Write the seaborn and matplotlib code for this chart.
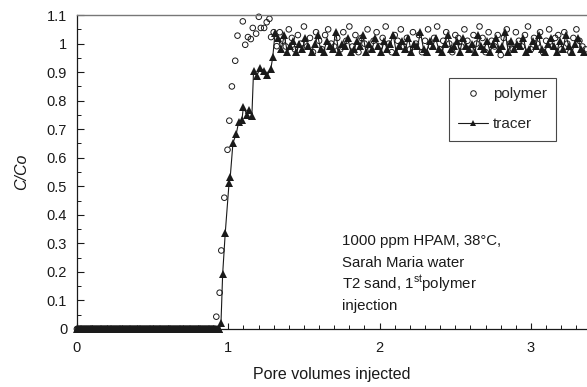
import numpy as np
import pandas as pd
import matplotlib
matplotlib.use("Agg")
import matplotlib.pyplot as plt
from matplotlib.lines import Line2D
from matplotlib.ticker import MultipleLocator
import seaborn as sns

# === DATA ===
# before breakthrough both effluent curves sit at zero
tracer_zero_pv = np.round(np.arange(0.0, 0.945, 0.006), 3)
polymer_zero_pv = np.round(np.arange(0.0, 0.915, 0.006), 3)

# breakthrough front
tracer_front_pv = [0.952, 0.963, 0.980, 1.005, 1.013, 1.031, 1.053, 1.068, 1.090, 1.100,
                   1.123, 1.140, 1.156, 1.167, 1.189, 1.211, 1.237, 1.259, 1.281, 1.294, 1.309]
tracer_front_c = [0.022, 0.193, 0.336, 0.510, 0.532, 0.652, 0.684, 0.724, 0.731, 0.778,
                  0.751, 0.768, 0.747, 0.903, 0.888, 0.915, 0.903, 0.891, 0.911, 0.953, 1.037]

polymer_front_pv = [0.921, 0.943, 0.954, 0.974, 0.995, 1.007, 1.024, 1.046, 1.061, 1.096,
                    1.112, 1.130, 1.149, 1.162, 1.184, 1.202, 1.215, 1.237, 1.254, 1.272,
                    1.283, 1.300, 1.320]
polymer_front_c = [0.043, 0.127, 0.275, 0.460, 0.628, 0.730, 0.850, 0.940, 1.028, 1.078,
                   0.996, 1.023, 1.016, 1.055, 1.035, 1.094, 1.055, 1.055, 1.075, 1.087,
                   1.023, 1.040, 0.991]

# plateau, sampled every 0.02 PV from 1.33
plateau_pv = np.round(1.33 + 0.02 * np.arange(102), 2)
tracer_plateau_c = [
    1.02, 0.98, 1.03, 0.97, 0.99, 1.01, 0.97, 1.00, 0.98, 1.02,
    0.99, 0.97, 1.00, 1.03, 0.98, 0.97, 1.01, 0.99, 0.98, 1.04,
    0.97, 1.00, 0.99, 1.02, 0.97, 0.98, 1.01, 0.99, 1.03, 0.97,
    1.00, 0.98, 1.02, 0.99, 0.97, 1.01, 0.98, 1.00, 1.03, 0.97,
    0.99, 1.01, 0.98, 1.02, 0.97, 1.00, 0.99, 1.04, 0.98, 0.97,
    1.01, 0.99, 1.02, 0.98, 0.97, 1.00, 1.03, 0.98, 0.99, 1.01,
    0.97, 1.02, 0.99, 0.98, 1.00, 0.97, 1.03, 0.99, 0.98, 1.01,
    0.97, 1.00, 1.02, 0.98, 0.99, 1.04, 0.97, 1.01, 0.98, 1.00,
    0.99, 1.02, 0.97, 0.98, 1.01, 0.99, 1.03, 0.98, 0.97, 1.00,
    1.02, 0.99, 0.97, 1.01, 0.98, 1.03, 0.99, 0.97, 1.00, 1.02,
    0.98, 0.97]
polymer_plateau_c = [
    1.04, 1.01, 0.99, 1.05, 1.02, 0.98, 1.03, 1.00, 1.06, 0.99,
    1.02, 0.97, 1.04, 1.01, 0.98, 1.03, 1.05, 1.00, 0.99, 1.02,
    0.98, 1.04, 1.01, 1.06, 0.99, 1.03, 0.97, 1.02, 1.00, 1.05,
    0.98, 1.01, 1.04, 0.99, 1.02, 1.06, 1.00, 0.97, 1.03, 1.01,
    1.05, 0.99, 1.02, 0.98, 1.04, 1.00, 1.03, 0.97, 1.01, 1.05,
    0.99, 1.02, 1.06, 0.98, 1.01, 1.04, 1.00, 0.97, 1.03, 1.02,
    0.99, 1.05, 1.01, 0.98, 1.03, 1.00, 1.06, 1.02, 0.97, 1.04,
    1.01, 0.99, 1.03, 0.96, 1.02, 1.05, 1.00, 0.98, 1.04, 1.01,
    0.99, 1.03, 1.06, 0.98, 1.02, 1.00, 1.04, 0.97, 1.01, 1.05,
    0.99, 1.02, 1.03, 0.98, 1.04, 1.00, 0.97, 1.02, 1.05, 1.01,
    0.99, 0.98]

note_lines = ["1000 ppm HPAM, 38°C,", "Sarah Maria water",
              "T2 sand, 1$^{\\rm st}$polymer", "injection"]

tracer = pd.DataFrame({
    "pv": np.concatenate([tracer_zero_pv, tracer_front_pv, plateau_pv]),
    "c": np.concatenate([np.zeros(len(tracer_zero_pv)), tracer_front_c, tracer_plateau_c]),
})
polymer = pd.DataFrame({
    "pv": np.concatenate([polymer_zero_pv, polymer_front_pv, plateau_pv + 0.01]),
    "c": np.concatenate([np.zeros(len(polymer_zero_pv)), polymer_front_c, polymer_plateau_c]),
})

# === STYLE ===
sns.set_theme(style="ticks")
plt.rcParams["font.family"] = ["Liberation Sans", "DejaVu Sans"]
plt.rcParams["mathtext.fontset"] = "custom"
plt.rcParams["mathtext.rm"] = "Liberation Sans"
ink = "#1a1a1a"

fig = plt.figure(figsize=(5.87, 3.87), dpi=100)
ax = fig.add_axes([0.131, 0.150, 0.869, 0.811])

sns.lineplot(data=tracer, x="pv", y="c", ax=ax, sort=False, estimator=None,
             color=ink, lw=0.8, marker="^", markersize=6, markeredgewidth=0,
             markerfacecolor=ink, zorder=3, clip_on=False)
sns.scatterplot(data=polymer, x="pv", y="c", ax=ax, marker="o", s=16,
                facecolor="none", edgecolor=ink, linewidth=0.7, zorder=2, clip_on=False)

ax.set_xlim(0, 3.37)
ax.set_ylim(0, 1.1)
ax.xaxis.set_major_locator(MultipleLocator(1))
ax.xaxis.set_minor_locator(MultipleLocator(0.1))
ax.yaxis.set_minor_locator(MultipleLocator(0.05))
ax.set_yticks(np.round(np.arange(0, 1.11, 0.1), 1))
ax.set_yticklabels(["0", "0.1", "0.2", "0.3", "0.4", "0.5", "0.6", "0.7", "0.8", "0.9", "1", "1.1"])
ax.tick_params(axis="both", which="both", direction="in", colors=ink, labelsize=10.5)
ax.tick_params(axis="x", which="major", length=4, width=0.8, pad=9)
ax.tick_params(axis="y", which="major", length=5, width=0.8, pad=7)
ax.tick_params(axis="both", which="minor", length=3, width=0.7)
for side in ["left", "bottom"]:
    ax.spines[side].set_color(ink)
    ax.spines[side].set_linewidth(0.9)
ax.spines["top"].set_color("#777777")
ax.spines["top"].set_linewidth(1.0)
ax.spines["right"].set_visible(False)

ax.set_xlabel("Pore volumes injected", fontsize=11.5, color=ink, labelpad=8)
ax.set_ylabel("C/Co", fontsize=11.5, color=ink, style="italic", labelpad=13)

for i, line in enumerate(note_lines):
    ax.text(1.75, 0.308 - i * 0.0755, line, fontsize=10.8, color=ink,
            va="center", ha="left")

handles = [
    Line2D([], [], ls="none", marker="o", markersize=4, markerfacecolor="none",
           markeredgecolor=ink, markeredgewidth=0.7),
    Line2D([], [], color=ink, lw=0.8, marker="^", markersize=5, markeredgewidth=0),
]
leg = ax.legend(handles, ["polymer", "tracer"], loc="upper left",
                bbox_to_anchor=(0.729, 0.799), borderaxespad=0, fontsize=11,
                frameon=True, fancybox=False, edgecolor=ink, labelspacing=1.05,
                handlelength=2.0, handletextpad=0.3, borderpad=0.6)
leg.get_frame().set_linewidth(0.8)

fig.savefig("out.png", dpi=100)
